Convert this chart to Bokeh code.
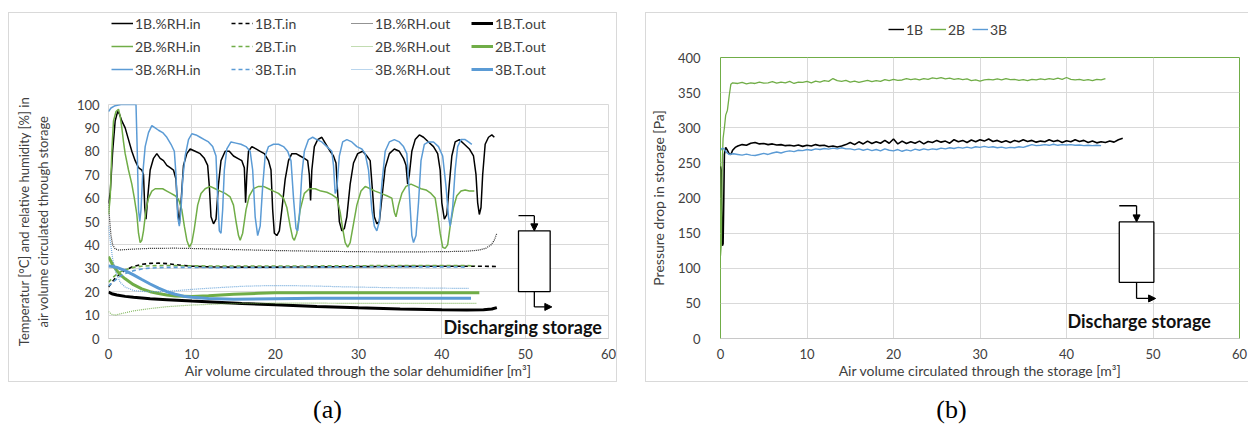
from bokeh.plotting import figure
from bokeh.models import Legend, LegendItem, Arrow, NormalHead, Div, Range1d, FixedTicker
from bokeh.layouts import row, column
from bokeh.core.properties import value
from bokeh.embed import file_html
from bokeh.resources import INLINE

FONT = "Lato"
BLACK = "#000000"
GREEN = "#70ad47"
BLUE = "#5b9bd5"
GRID = "#d9d9d9"
TXT = "#404040"

# ---------------- Panel (a) data: (air volume m3, value) ----------------
RH_IN_1B = [(0, 58), (0.2, 62), (0.5, 80), (0.8, 93), (1.1, 97), (1.3, 96), (1.6, 93), (2.0, 90), (2.4, 85),
            (2.8, 80), (3.2, 76), (3.6, 73), (4.0, 72), (4.2, 70), (4.35, 56), (4.5, 51), (4.7, 60), (5.0, 72),
            (5.4, 77), (5.8, 79), (6.2, 77), (6.6, 76), (7.0, 74), (7.4, 73), (7.8, 72), (8.1, 68), (8.3, 55),
            (8.5, 49), (8.7, 58), (9.0, 74), (9.4, 79), (9.8, 81), (10.4, 80), (11.0, 79), (11.5, 77), (11.9, 74),
            (12.1, 65), (12.3, 52), (12.6, 49), (12.9, 51), (13.2, 66), (13.5, 76), (14.0, 80), (14.5, 80),
            (15.0, 78), (15.5, 77), (16.0, 76), (16.3, 73), (16.45, 58), (16.6, 70), (16.8, 80), (17.2, 82),
            (17.7, 81), (18.2, 80), (18.7, 79), (19.2, 76), (19.5, 72), (19.7, 55), (19.9, 45), (20.2, 44),
            (20.5, 46), (20.8, 55), (21.2, 68), (21.6, 76), (22.0, 79), (22.5, 79), (23.0, 78), (23.5, 77),
            (23.9, 76), (24.1, 70), (24.25, 59), (24.4, 72), (24.7, 82), (25.1, 85), (25.6, 86), (26.1, 83),
            (26.6, 80), (27.0, 78), (27.3, 75), (27.5, 62), (27.7, 50), (28.0, 46), (28.3, 47), (28.6, 52),
            (29.0, 66), (29.4, 75), (29.9, 79), (30.5, 80), (31.0, 78), (31.4, 76), (31.7, 62), (31.9, 52),
            (32.2, 49), (32.5, 50), (32.8, 60), (33.2, 73), (33.7, 79), (34.3, 81), (34.9, 80), (35.4, 77),
            (35.7, 74), (35.9, 66), (36.1, 70), (36.4, 80), (36.8, 85), (37.3, 87), (37.8, 86), (38.4, 84),
            (39.0, 82), (39.5, 79), (39.8, 72), (40.0, 58), (40.3, 51), (40.6, 53), (40.9, 66), (41.2, 78),
            (41.6, 84), (42.1, 85), (42.7, 83), (43.3, 81), (43.8, 78), (44.1, 70), (44.3, 58), (44.5, 53),
            (44.7, 56), (44.9, 70), (45.2, 83), (45.6, 86), (46.0, 87), (46.3, 86)]
RH_IN_2B = [(0, 53), (0.2, 60), (0.4, 80), (0.6, 93), (0.9, 97), (1.2, 98), (1.4, 95), (1.6, 90), (1.8, 84),
            (2.0, 79), (2.4, 72), (2.8, 66), (3.1, 60), (3.4, 53), (3.6, 45), (3.8, 41), (4.0, 42), (4.2, 46),
            (4.5, 55), (4.8, 60), (5.2, 63), (5.6, 64), (6.0, 64), (6.5, 64), (7.0, 63), (7.5, 62), (8.0, 61),
            (8.4, 59.5), (8.8, 55), (9.1, 48), (9.4, 42), (9.7, 39), (10.0, 41), (10.3, 47), (10.7, 57),
            (11.1, 62), (11.6, 64), (12.2, 65), (12.8, 64), (13.4, 63), (14.0, 62), (14.6, 60.5), (15.0, 57),
            (15.3, 50), (15.6, 44), (15.8, 42), (16.1, 45), (16.5, 55), (16.9, 61), (17.4, 64), (18.0, 65),
            (18.6, 65), (19.2, 64), (19.8, 63), (20.4, 62), (21.0, 60), (21.4, 56), (21.8, 48), (22.1, 43),
            (22.3, 42), (22.6, 45), (23.0, 55), (23.5, 62), (24.1, 64), (24.8, 64), (25.5, 63), (26.2, 62.5),
            (26.8, 61.5), (27.4, 60), (27.8, 54), (28.1, 47), (28.4, 41), (28.7, 39), (29.0, 41), (29.4, 49),
            (29.8, 57), (30.3, 63), (30.8, 65), (31.4, 64), (32.0, 63), (32.7, 62), (33.4, 61), (34.0, 60),
            (34.3, 54), (34.5, 52), (34.8, 57), (35.2, 62), (35.7, 65), (36.3, 66), (36.9, 65), (37.5, 64),
            (38.1, 63.5), (38.7, 62), (39.2, 60), (39.5, 53), (39.8, 45), (40.1, 39), (40.4, 38.5), (40.7, 40),
            (41.0, 48), (41.4, 56), (41.8, 61), (42.3, 63), (42.8, 63.5), (43.3, 63), (43.9, 63)]
RH_IN_3B = [(0, 97), (0.3, 98.5), (0.8, 99.5), (1.5, 100), (2.5, 100), (3.3, 100), (3.45, 80), (3.6, 55),
            (3.75, 50), (3.9, 55), (4.1, 70), (4.4, 82), (4.8, 88), (5.2, 91), (5.6, 90), (6.0, 89), (6.5, 88),
            (7.0, 86), (7.5, 83), (7.9, 80), (8.1, 70), (8.3, 52), (8.5, 48), (8.7, 55), (8.9, 68), (9.2, 78),
            (9.6, 85), (10.0, 87.5), (10.5, 87), (11.0, 86), (11.5, 85), (12.0, 84), (12.5, 82), (12.9, 78),
            (13.1, 60), (13.3, 46), (13.5, 45), (13.7, 55), (13.9, 72), (14.2, 81), (14.7, 84), (15.3, 83.5),
            (15.9, 83), (16.5, 82), (17.0, 80), (17.3, 72), (17.6, 52), (17.9, 44), (18.2, 48), (18.5, 65),
            (18.8, 78), (19.2, 82), (19.8, 83), (20.4, 83), (21.0, 82), (21.5, 80), (21.9, 76), (22.2, 60),
            (22.5, 47), (22.7, 46), (22.9, 52), (23.2, 70), (23.5, 80), (24.0, 85), (24.5, 86), (25.0, 85),
            (25.6, 84), (26.2, 82), (26.8, 80), (27.0, 74), (27.2, 62), (27.4, 64), (27.7, 78), (28.1, 84),
            (28.6, 85), (29.2, 84), (29.8, 82), (30.4, 81), (30.8, 79), (31.2, 72), (31.6, 55), (31.9, 48),
            (32.2, 46), (32.5, 50), (32.8, 66), (33.2, 80), (33.7, 84), (34.3, 85), (34.9, 84), (35.4, 82),
            (35.8, 79), (36.1, 62), (36.4, 44), (36.6, 41), (36.9, 44), (37.2, 58), (37.5, 76), (37.9, 83),
            (38.4, 84), (39.0, 84), (39.6, 82), (40.1, 78), (40.5, 65), (40.8, 52), (41.0, 48), (41.3, 56),
            (41.6, 72), (41.9, 82), (42.3, 85), (42.8, 85), (43.2, 84), (43.6, 83)]
T_IN_1B = [(0, 22), (0.5, 24.5), (1, 26.5), (1.5, 28), (2, 29.3), (3, 30.8), (4, 31.7), (5, 32.1), (6, 32.2),
           (7, 32.0), (8, 31.6), (9, 31.2), (10, 30.9), (12, 30.6), (15, 30.5), (20, 30.5), (25, 30.6),
           (30, 30.7), (35, 30.8), (40, 30.9), (44, 30.9), (46.5, 30.8)]
T_IN_2B = [(0, 24), (0.5, 26), (1, 27.5), (1.5, 28.6), (2, 29.4), (3, 30.4), (4, 30.9), (5, 31.1), (7, 31.2),
           (9, 31.1), (12, 31.0), (15, 31.0), (20, 31.0), (25, 31.0), (30, 31.1), (35, 31.2), (40, 31.2),
           (44, 31.1)]
T_IN_3B = [(0, 22.5), (0.5, 24), (1, 25.5), (1.5, 26.8), (2, 27.8), (3, 29.0), (4, 29.7), (5, 30.1), (7, 30.4),
           (9, 30.4), (12, 30.3), (15, 30.3), (20, 30.4), (25, 30.5), (30, 30.5), (35, 30.6), (40, 30.6),
           (43, 30.5)]
RH_OUT_1B = [(0, 58), (0.15, 50), (0.3, 44), (0.5, 40), (0.8, 38.3), (1.2, 37.8), (2, 38), (3, 38.2), (5, 38.5),
             (8, 38.6), (11, 38.4), (15, 38), (20, 37.6), (25, 37.3), (30, 37.1), (35, 37.0), (40, 37.1),
             (43, 37.3), (44.5, 37.8), (45.3, 38.6), (45.9, 40), (46.3, 42), (46.6, 45)]
RH_OUT_2B = [(0, 11.5), (0.4, 10.3), (0.8, 10), (1.5, 10.6), (3, 11.8), (5, 12.8), (7, 13.6), (10, 14.3),
             (13, 14.7), (16, 15), (20, 15.1), (25, 15.1), (30, 15), (35, 15), (40, 15), (44.2, 15)]
RH_OUT_3B = [(0, 48), (0.2, 42), (0.5, 34), (0.9, 28), (1.4, 24), (2, 22), (3, 20.5), (4.5, 20), (6, 20),
             (8, 20.4), (10, 21), (13, 21.7), (16, 22.3), (19, 22.6), (22, 22.6), (25, 22.4), (28, 22.1),
             (31, 21.9), (34, 21.7), (37, 21.6), (40, 21.5), (43.2, 21.4)]
T_OUT_1B = [(0, 19.8), (0.5, 19.0), (1, 18.6), (2, 18.0), (3, 17.6), (5, 17.0), (7, 16.6), (10, 16.0),
            (13, 15.5), (16, 15.0), (20, 14.4), (25, 13.7), (30, 13.1), (35, 12.6), (40, 12.3), (43, 12.2),
            (45, 12.3), (46, 12.6), (46.6, 13.2)]
T_OUT_2B = [(0, 35), (0.5, 31.5), (1, 29), (1.5, 27), (2, 25.5), (3, 23), (4, 21.2), (5, 20), (6, 19.2),
            (7, 18.6), (8, 18.2), (10, 18), (12, 18.3), (15, 18.9), (18, 19.3), (20, 19.5), (25, 19.6),
            (30, 19.6), (35, 19.6), (40, 19.6), (44.5, 19.6)]
T_OUT_3B = [(0, 31), (0.5, 30.8), (1, 30.4), (2, 29), (3, 27.2), (4, 25.2), (5, 23.3), (6, 21.5), (7, 20),
            (8, 18.9), (9, 18.1), (10, 17.6), (12, 17.1), (15, 16.8), (20, 17.0), (25, 17.2), (30, 17.2),
            (35, 17.2), (40, 17.2), (43.5, 17.2)]

# ---------------- Panel (b) data: (air volume m3, pressure drop Pa) ----------------
DP_1B = [(0, 245), (0.08, 240), (0.15, 180), (0.22, 132), (0.3, 135), (0.38, 200), (0.45, 262), (0.6, 272),
         (0.8, 268), (1.0, 263), (1.2, 262), (1.4, 268), (1.7, 272), (2.0, 274), (2.5, 276), (3.0, 275),
         (3.5, 278), (4.0, 279), (4.5, 277), (5.0, 277.5), (5.5, 276), (6.0, 277), (6.5, 275.5), (7.0, 276),
         (7.5, 274.5), (8.0, 275), (8.5, 274), (9.0, 275.5), (9.5, 273.5), (10.0, 275), (10.5, 274),
         (11.0, 276), (11.5, 274.5), (12.0, 275), (12.5, 273), (13.0, 274), (13.5, 272.5), (14.0, 274),
         (14.5, 276), (15.0, 279), (15.5, 276), (16.0, 280), (16.5, 277), (17.0, 281), (17.5, 277.5),
         (18.0, 280), (18.5, 278), (19.0, 282), (19.5, 278), (20.0, 284), (20.5, 277), (21.0, 281),
         (21.5, 277.5), (22.0, 280), (22.5, 278), (23.0, 281), (23.5, 277), (24.0, 280.5), (24.5, 279),
         (25.0, 282), (25.5, 279.5), (26.0, 281), (26.5, 278), (27.0, 283), (27.5, 280), (28.0, 282),
         (28.5, 279), (29.0, 282.5), (29.5, 280), (30.0, 283), (30.5, 281), (31.0, 284), (31.5, 280.5),
         (32.0, 282), (32.5, 279.5), (33.0, 281.5), (33.5, 279), (34.0, 282), (34.5, 280), (35.0, 283),
         (35.5, 280.5), (36.0, 282), (36.5, 279.5), (37.0, 281), (37.5, 280), (38.0, 283), (38.5, 280.5),
         (39.0, 282), (39.5, 279), (40.0, 281.5), (40.5, 280), (41.0, 283), (41.5, 280.5), (42.0, 282),
         (42.5, 279), (43.0, 281), (43.5, 278.5), (44.0, 280), (44.5, 279), (45.0, 281), (45.5, 279.5),
         (46.0, 283), (46.5, 285)]
DP_2B = [(0, 118), (0.1, 135), (0.2, 250), (0.3, 285), (0.45, 300), (0.6, 318), (0.8, 325), (1.0, 345),
         (1.2, 362), (1.4, 364), (2.0, 363), (2.5, 364.5), (3.0, 362.5), (3.5, 364), (4.0, 363), (4.5, 365),
         (5.0, 363.5), (5.5, 364), (6.0, 365.5), (6.5, 363.5), (7.0, 365), (7.5, 364), (8.0, 366), (8.5, 363),
         (9.0, 365), (9.5, 364.5), (10.0, 366), (10.5, 364), (11.0, 366.5), (11.5, 365), (12.0, 367),
         (12.5, 366), (13.0, 370), (13.5, 367), (14.0, 366), (14.5, 367.5), (15.0, 365), (15.5, 366.5),
         (16.0, 364.5), (16.5, 366), (17.0, 367.5), (17.5, 365.5), (18.0, 367), (18.5, 366), (19.0, 368.5),
         (19.5, 367), (20.0, 369), (20.5, 367.5), (21.0, 368), (21.5, 370), (22.0, 368.5), (22.5, 369.5),
         (23.0, 368), (23.5, 370), (24.0, 369), (24.5, 371), (25.0, 370), (25.5, 371.5), (26.0, 369.5),
         (26.5, 370.5), (27.0, 369), (27.5, 370), (28.0, 368.5), (28.5, 369.5), (29.0, 367), (29.5, 368),
         (30.0, 366.5), (30.5, 368), (31.0, 369), (31.5, 368), (32.0, 369.5), (32.5, 368), (33.0, 370),
         (33.5, 368.5), (34.0, 369), (34.5, 367.5), (35.0, 368.5), (35.5, 367), (36.0, 369), (36.5, 368),
         (37.0, 369.5), (37.5, 368.5), (38.0, 370), (38.5, 369), (39.0, 370.5), (39.5, 369), (40.0, 371.5),
         (40.5, 369), (41.0, 368), (41.5, 369), (42.0, 367.5), (42.5, 368.5), (43.0, 367), (43.5, 369),
         (44.0, 368), (44.5, 370)]
DP_3B = [(0, 268), (0.2, 271), (0.4, 270), (0.7, 265), (1.0, 262), (1.5, 263), (2.0, 262), (2.5, 261),
         (3.0, 262.5), (3.5, 261), (4.0, 260.5), (4.5, 262), (5.0, 263.5), (5.5, 262), (6.0, 264),
         (6.5, 265.5), (7.0, 264), (7.5, 266), (8.0, 267), (8.5, 266), (9.0, 268), (9.5, 267.5), (10.0, 269),
         (10.5, 268), (11.0, 270), (11.5, 269), (12.0, 270.5), (12.5, 269.5), (13.0, 271), (13.5, 270),
         (14.0, 271.5), (14.5, 270), (15.0, 270), (15.5, 268.5), (16.0, 270), (16.5, 268), (17.0, 269.5),
         (17.5, 267.5), (18.0, 269), (18.5, 267), (19.0, 270), (19.5, 268), (20.0, 267), (20.5, 269),
         (21.0, 266.5), (21.5, 268.5), (22.0, 267), (22.5, 269.5), (23.0, 268), (23.5, 270), (24.0, 268.5),
         (24.5, 270), (25.0, 269), (25.5, 271), (26.0, 270), (26.5, 271.5), (27.0, 270.5), (27.5, 272),
         (28.0, 271), (28.5, 272.5), (29.0, 271), (29.5, 273), (30.0, 272), (30.5, 273.5), (31.0, 272),
         (31.5, 273), (32.0, 271.5), (32.5, 272.5), (33.0, 271), (33.5, 272), (34.0, 271.5), (34.5, 273),
         (35.0, 272), (35.5, 274), (36.0, 276), (36.5, 274.5), (37.0, 275), (37.5, 276), (38.0, 275),
         (38.5, 276.5), (39.0, 275), (39.5, 276), (40.0, 275.5), (40.5, 276), (41.0, 275), (41.5, 275.5),
         (42.0, 274.5), (42.5, 275), (43.0, 274.5), (43.5, 275), (44.0, 274.5)]

X_TICKS = [0, 10, 20, 30, 40, 50, 60]
YA_TICKS = [0, 10, 20, 30, 40, 50, 60, 70, 80, 90, 100]
YB_TICKS = [0, 50, 100, 150, 200, 250, 300, 350, 400]

# schematic storage symbols (data coordinates)
BOX_A = dict(left=49.2, right=53.0, bottom=20, top=46, in_y=52.5, out_y=13.5)
BOX_B = dict(left=46.1, right=50.1, bottom=80, top=166, in_y=189, out_y=57)

SERIES_A = [
    ("1B.%RH.in", RH_IN_1B, BLACK, "in"), ("1B.T.in", T_IN_1B, BLACK, "tin"),
    ("1B.%RH.out", RH_OUT_1B, BLACK, "out"), ("1B.T.out", T_OUT_1B, BLACK, "tout"),
    ("2B.%RH.in", RH_IN_2B, GREEN, "in"), ("2B.T.in", T_IN_2B, GREEN, "tin"),
    ("2B.%RH.out", RH_OUT_2B, GREEN, "out"), ("2B.T.out", T_OUT_2B, GREEN, "tout"),
    ("3B.%RH.in", RH_IN_3B, BLUE, "in"), ("3B.T.in", T_IN_3B, BLUE, "tin"),
    ("3B.%RH.out", RH_OUT_3B, BLUE, "out"), ("3B.T.out", T_OUT_3B, BLUE, "tout")]
SERIES_B = [("1B", DP_1B, BLACK, 1.6), ("2B", DP_2B, GREEN, 1.3), ("3B", DP_3B, BLUE, 1.4)]


def xs(pts):
    return [p[0] for p in pts]


def ys(pts):
    return [p[1] for p in pts]


def line_kw(kind, color):
    if kind == "in":
        return dict(line_color=color, line_width=1.5)
    if kind == "tin":
        return dict(line_color=color, line_width=1.6, line_dash="4 3")
    if kind == "out":
        return dict(line_color=color, line_width=1.2, line_dash="1 1", line_alpha=0.85)
    return dict(line_color=color, line_width=3)


def style(p, yticks, ylabel, xlabel, label_standoff_y, tick_standoff_y, ylabel_size):
    p.xaxis.ticker = FixedTicker(ticks=X_TICKS)
    p.yaxis.ticker = FixedTicker(ticks=yticks)
    for ax in (p.xaxis, p.yaxis):
        ax.major_tick_line_color = None
        ax.minor_tick_line_color = None
        ax.major_label_text_font = FONT
        ax.major_label_text_font_size = "13px"
        ax.major_label_text_color = TXT
        ax.axis_label_text_font = FONT
        ax.axis_label_text_font_size = "14px"
        ax.axis_label_text_font_style = "normal"
        ax.axis_label_text_color = TXT
    p.yaxis.axis_label_text_font_size = ylabel_size
    p.yaxis.axis_line_color = None
    p.xaxis.axis_line_color = "#c8c8c8"
    p.xaxis.major_label_standoff = 4
    p.xaxis.axis_label_standoff = 0
    p.yaxis.major_label_standoff = tick_standoff_y
    p.yaxis.axis_label_standoff = label_standoff_y
    p.xaxis.axis_label = xlabel
    p.yaxis.axis_label = ylabel
    p.xgrid.ticker = FixedTicker(ticks=X_TICKS)
    p.ygrid.ticker = FixedTicker(ticks=yticks)
    p.xgrid.grid_line_color = GRID
    p.ygrid.grid_line_color = GRID
    p.background_fill_color = "white"
    p.border_fill_color = "white"


def storage_symbol(p, b, label, lx, ly):
    cx = (b["left"] + b["right"]) / 2
    p.line([b["left"], cx], [b["in_y"], b["in_y"]], line_color=BLACK, line_width=1.3)
    p.add_layout(Arrow(x_start=cx, y_start=b["in_y"], x_end=cx, y_end=b["top"], line_width=1.3,
                       end=NormalHead(size=7, fill_color=BLACK, line_color=BLACK)))
    p.quad(left=[b["left"]], right=[b["right"]], bottom=[b["bottom"]], top=[b["top"]],
           fill_color="white", line_color=BLACK, line_width=1.3)
    p.line([cx, cx], [b["bottom"], b["out_y"]], line_color=BLACK, line_width=1.3)
    p.add_layout(Arrow(x_start=cx, y_start=b["out_y"], x_end=b["right"] + 0.2, y_end=b["out_y"],
                       line_width=1.3, end=NormalHead(size=7, fill_color=BLACK, line_color=BLACK)))
    p.text(x=[lx], y=[ly], text=[label], text_align="right", text_baseline="middle",
           text_font=value(FONT), text_font_size="18px", text_font_style="bold", text_color="#111111")


def legend_figure(width, height, margin):
    f = figure(width=width, height=height, x_range=Range1d(0, 1), y_range=Range1d(0, 1),
               output_backend="svg", toolbar_location=None, x_axis_location=None, y_axis_location=None,
               min_border=0, margin=margin)
    f.grid.visible = False
    f.outline_line_color = None
    f.background_fill_color = "white"
    f.border_fill_color = "white"
    return f


def make_legend(items, ncols, label_width, glyph_width, spacing):
    return Legend(items=items, location="top_left", orientation="horizontal", ncols=ncols,
                  background_fill_alpha=0, border_line_color=None, padding=0, margin=0, spacing=spacing,
                  glyph_width=glyph_width, glyph_height=20, label_height=20, label_width=label_width,
                  label_standoff=2, label_text_font=FONT, label_text_font_size="14px",
                  label_text_color=TXT)


# legend swatch renderers sit outside the (0..1) ranges of the legend strip
SWATCH_X = [5, 6]
SWATCH_Y = [5, 6]

# ================= Panel (a) =================
pa = figure(width=607, height=287, x_range=Range1d(0, 60), y_range=Range1d(0, 100),
            output_backend="svg", toolbar_location=None,
            min_border_left=99, min_border_right=8, min_border_top=10, min_border_bottom=37)
style(pa, YA_TICKS, "Temperatur [°C] and relative humidity [%] in\nair volume circulated through storage",
      "Air volume circulated through the solar dehumidifier [m³]", 23, 3, "13px")
pa.outline_line_color = GRID
storage_symbol(pa, BOX_A, "Discharging storage", 59.2, 5)
for name, pts, color, kind in SERIES_A:
    pa.line(xs(pts), ys(pts), **line_kw(kind, color))

la = legend_figure(602, 81, (0, 0, 0, 3))
items_a = [LegendItem(label=name, renderers=[la.line(SWATCH_X, SWATCH_Y, **line_kw(kind, color))])
           for name, pts, color, kind in SERIES_A]
la.add_layout(make_legend(items_a, 4, 93, 22, 3), "center")

panel_a = column(la, pa, styles={"border": "1px solid #d9d9d9"}, margin=(12, 28, 0, 8))

# ================= Panel (b) =================
pb = figure(width=603, height=334, x_range=Range1d(0, 60), y_range=Range1d(0, 400),
            output_backend="svg", toolbar_location=None,
            min_border_left=74, min_border_right=10, min_border_top=10, min_border_bottom=37)
style(pb, YB_TICKS, "Pressure drop in storage [Pa]",
      "Air volume circulated through the storage [m³]", 8, 14, "14px")
pb.outline_line_color = GREEN
storage_symbol(pb, BOX_B, "Discharge storage", 56.7, 25)
for name, pts, color, w in SERIES_B:
    pb.line(xs(pts), ys(pts), line_color=color, line_width=w)

lb = legend_figure(300, 28, (6, 0, 0, 168))
items_b = [LegendItem(label=name, renderers=[lb.line(SWATCH_X, SWATCH_Y, line_color=color, line_width=1.4)])
           for name, pts, color, w in SERIES_B]
lb.add_layout(make_legend(items_b, 3, 18, 16, 6), "center")

panel_b = column(lb, pb, styles={"border": "1px solid #d9d9d9"}, margin=(12, 0, 0, 0))

CAP_STYLE = "text-align:center;font-family:'Liberation Serif';font-size:26px;line-height:30px;color:#000"
cap_a = Div(text=f'<div style="width:655px;{CAP_STYLE}">(a)</div>', width=655, height=40,
            margin=(13, 0, 0, 0))
cap_b = Div(text=f'<div style="width:593px;{CAP_STYLE}">(b)</div>', width=593, height=40,
            margin=(13, 0, 0, 0))

layout = column(row(panel_a, panel_b), row(cap_a, cap_b))
open("out.html", "w").write(file_html(layout, INLINE))
